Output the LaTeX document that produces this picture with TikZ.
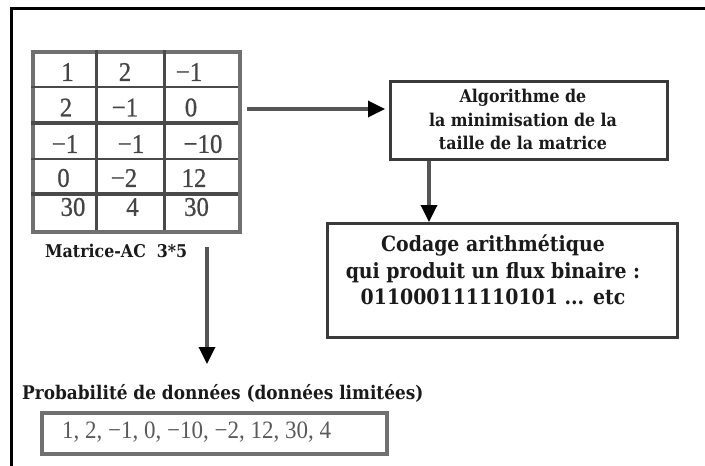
\documentclass[tikz,border=0pt]{standalone}
\usepackage{fontspec}
\setmainfont{Liberation Serif}
\newfontfamily\labfont{DejaVu Serif}[FakeStretch=0.9]
\newfontfamily\numfont{Liberation Serif}[FakeStretch=0.92]
\newfontfamily\cellfont{Liberation Serif}[FakeStretch=0.92,FakeBold=0.7]
\usetikzlibrary{arrows.meta}
\definecolor{gridline}{HTML}{4A4A4A}
\definecolor{gridframe}{HTML}{707070}
\definecolor{numtext}{HTML}{454545}
\definecolor{listtext}{HTML}{5A5A5A}
\definecolor{boxline}{HTML}{3A3A3A}
\definecolor{arrowline}{HTML}{555555}
\definecolor{labeltext}{HTML}{1A1A1A}
\tikzset{
  cellnum/.style={font=\cellfont\fontsize{27}{27}\selectfont, text=numtext, inner sep=0pt},
  steplabel/.style={font=\labfont\bfseries\fontsize{21}{26.5}\selectfont, text=labeltext, align=center, inner sep=0pt},
  smalllabel/.style={font=\labfont\bfseries\fontsize{17.6}{23.5}\selectfont, text=labeltext, align=center, inner sep=0pt},
  stepbox/.style={draw=boxline, line width=3.2pt, inner sep=0pt},
  flow/.style={draw=arrowline, line width=3.4pt, -{Triangle[fill=black,color=black,length=17pt,width=16pt]}},
}
\begin{document}
\begin{tikzpicture}[x=1pt,y=-1pt]
  \useasboundingbox (0,0) rectangle (705,466);
  % outer frame (top and left edges)
  \draw[line width=3.8pt, black] (11.5,466) -- (11.5,8.5) -- (705,8.5);

  % matrix grid
  \node[draw=gridframe, line width=3.6pt, minimum width=207pt, minimum height=180pt, inner sep=0pt, anchor=north west] (mat) at (31,50) {};
  \foreach \yy/\w in {87/2.8, 123/3.6, 159/2.8, 194/3.6}
    \draw[gridline, line width=\w pt] (31,\yy) -- (238,\yy);
  \foreach \xx in {96.5, 164}
    \draw[gridline, line width=3pt] (\xx,50) -- (\xx,230);

  % matrix entries
  \node[cellnum] (m11) at (67.5,72) {1};
  \node[cellnum] (m12) at (125,72) {2};
  \node[cellnum] (m13) at (189,72) {−1};
  \node[cellnum] (m21) at (66,107.5) {2};
  \node[cellnum] (m22) at (125,107.5) {−1};
  \node[cellnum] (m23) at (191,107.5) {0};
  \node[cellnum] (m31) at (65,144) {−1};
  \node[cellnum] (m32) at (131,144) {−1};
  \node[cellnum] (m33) at (203,144) {−10};
  \node[cellnum] (m41) at (63.5,178) {0};
  \node[cellnum] (m42) at (124,178) {−2};
  \node[cellnum] (m43) at (194,178) {12};
  \node[cellnum] (m51) at (73,207) {30};
  \node[cellnum] (m52) at (132.5,207) {4};
  \node[cellnum] (m53) at (196.5,207) {30};

  \node[smalllabel, font=\labfont\bfseries\fontsize{17.6}{18}\selectfont, anchor=west] (matlabel) at (45,251) {Matrice-AC\ \ 3*5};

  % processing boxes
  \node[stepbox, minimum width=277pt, minimum height=78pt, anchor=north west] (algo) at (389,80) {};
  \node[smalllabel] (algotext) at (523,119.5) {Algorithme de\\la minimisation de la\\taille de la matrice};

  \node[stepbox, minimum width=350pt, minimum height=114pt, anchor=north west] (codage) at (326,222) {};
  \node[steplabel] (codagetext) at (493,270) {Codage arithmétique\\qui produit un flux binaire :\\011000111110101 ... etc};

  % probability list
  \node[steplabel, font=\labfont\bfseries\fontsize{18.8}{18}\selectfont, anchor=west] (problabel) at (22,393) {Probabilité de données (données limitées)};
  \node[draw=gridframe, line width=3.6pt, minimum width=345pt, minimum height=41pt, inner sep=0pt, anchor=north west] (problist) at (40,411) {};
  \node[font=\numfont\fontsize{25}{25}\selectfont, text=listtext, inner sep=0pt, anchor=west] (problisttext) at (62,432) {1, 2, −1, 0, −10, −2, 12, 30, 4};

  % connectors
  \coordinate (hstart) at (247,109);
  \coordinate (vstart) at (207,247);
  \coordinate (vend) at (207,364);
  \draw[flow, shorten >=4pt] (hstart) -- (hstart -| algo.west);
  \draw[flow] (algo.south -| 429,0) -- (codage.north -| 429,0);
  \draw[flow] (vstart) -- (vend);
\end{tikzpicture}
\end{document}
